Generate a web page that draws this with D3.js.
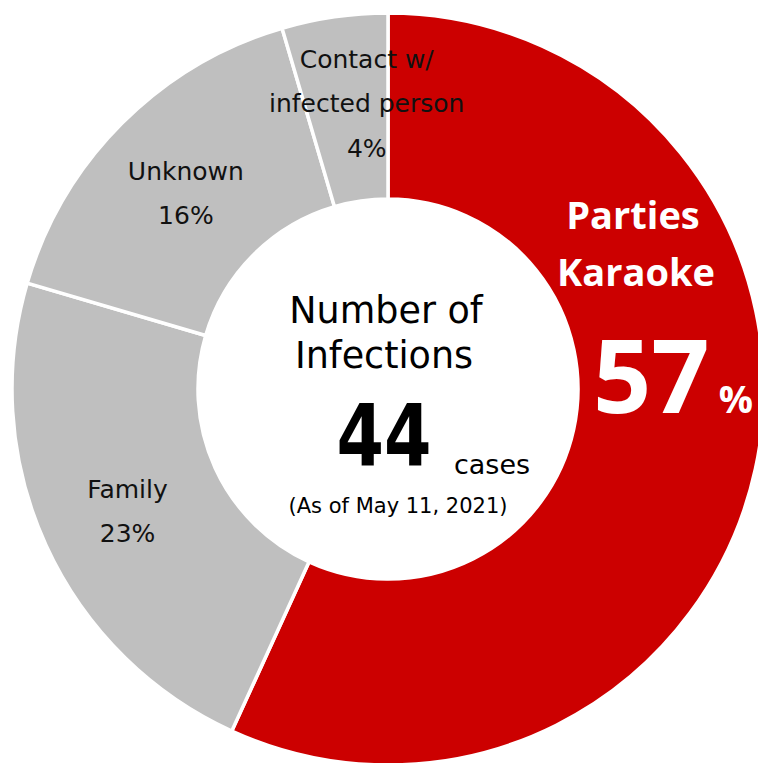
<!DOCTYPE html>
<html>
<head>
<meta charset="utf-8">
<script src="https://cdn.jsdelivr.net/npm/d3@7"></script>
<style>
  body { margin: 0; background: #fff; }
  svg { display: block; }
</style>
</head>
<body>
<svg id="chart" width="758" height="763"></svg>
<script>
// data
var routes = ["Parties Karaoke", "Family", "Unknown", "Contact w/ infected person"];
var cases = [25, 10, 7, 2];
var pctLabels = ["57", "23%", "16%", "4%"];
var labelLines = [["Parties", "Karaoke"], ["Family"], ["Unknown"], ["Contact w/", "infected person"]];
var colors = ["#CC0000", "#BFBFBF", "#BFBFBF", "#BFBFBF"];
var total = 44;
var asOf = "(As of May 11, 2021)";

// constants
var width = 758, height = 763,
    cx = 388, cy = 389,
    outerR = 376, innerR = 190;

var font = "'DejaVu Sans', Verdana, sans-serif";

var svg = d3.select("#chart");
var g = svg.append("g").attr("transform", "translate(" + cx + "," + cy + ")");

var pie = d3.pie().sort(null).value(function (d) { return d; });
var arcs = pie(cases);

var arc = d3.arc().innerRadius(innerR).outerRadius(outerR);
var labelArc = d3.arc().innerRadius(283).outerRadius(283);

g.selectAll("path.slice")
    .data(arcs)
    .enter()
    .append("path")
    .attr("class", "slice")
    .attr("d", arc)
    .attr("fill", function (d, i) { return colors[i]; })
    .attr("stroke", "#fff")
    .attr("stroke-width", 3.5);

// grey slice labels (nudged from centroid like the original)
var nudge = [null, [-3, -9], [-2, -9], [19, -41]];
arcs.forEach(function (d, i) {
    if (i === 0) return;
    var c = labelArc.centroid(d);
    var x = c[0] + nudge[i][0], y = c[1] + nudge[i][1];
    var lines = labelLines[i].concat([pctLabels[i]]);
    var t = g.append("text")
        .attr("text-anchor", "middle")
        .style("font-family", font)
        .style("font-size", "25px")
        .attr("fill", "#111");
    lines.forEach(function (s, k) {
        t.append("tspan").attr("x", x).attr("y", y + k * 44.5).text(s);
    });
});

// main slice label
var red = g.append("g").attr("fill", "#fff").style("font-family", "'Open Sans', 'Noto Sans', sans-serif").style("font-weight", "bold");
red.append("text").attr("x", 245).attr("y", 229 - cy).attr("text-anchor", "middle")
    .style("font-size", "38px").text(labelLines[0][0]);
red.append("text").attr("x", 248).attr("y", 286 - cy).attr("text-anchor", "middle")
    .style("font-size", "38px").text(labelLines[0][1]);
var big = red.append("text").attr("x", 205).attr("y", 413 - cy);
big.append("tspan").style("font-size", "102px").text(pctLabels[0]);
big.append("tspan").attr("dx", 9).style("font-size", "38px").text("%");

// centre text
var c = g.append("g").style("font-family", font).attr("fill", "#000").attr("text-anchor", "middle");
c.append("text").attr("y", 323 - cy).attr("x", -2).style("font-size", "36.5px").text("Number of");
c.append("text").attr("y", 368 - cy).attr("x", -4).style("font-size", "36.5px").text("Infections");
c.append("text").attr("y", 465 - cy).attr("x", -4).style("font-size", "86px").style("font-weight", "bold")
    .attr("textLength", 95).attr("lengthAdjust", "spacingAndGlyphs").text(total);
c.append("text").attr("y", 474 - cy).attr("x", 104).style("font-size", "27px").text("cases");
c.append("text").attr("y", 513 - cy).attr("x", 10).style("font-size", "21px").text(asOf);
</script>
</body>
</html>
